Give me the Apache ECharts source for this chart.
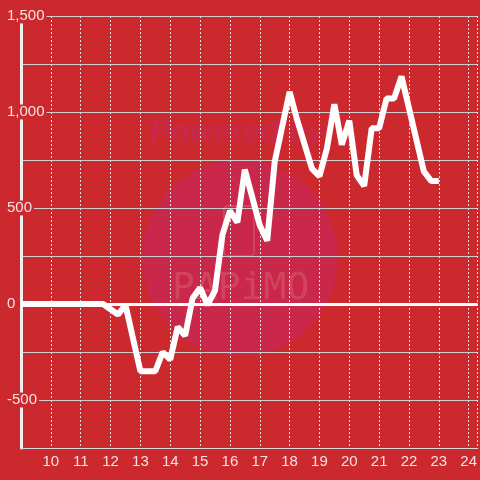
<!DOCTYPE html>
<html>
<head>
<meta charset="utf-8">
<script src="https://cdn.jsdelivr.net/npm/echarts@6/dist/echarts.min.js"></script>
<style>
  html, body { margin: 0; padding: 0; background: #cc292e; }
  #chart { width: 480px; height: 480px; }
</style>
</head>
<body>
<div id="chart"></div>
<script>
// hour of day (15 min steps, only the corners of the line)
const hours = [9, 11.75, 12.25, 12.5, 13, 13.5, 13.75, 14, 14.25, 14.5, 14.75, 15, 15.25, 15.5, 15.75,
    16, 16.25, 16.5, 17, 17.25, 17.5, 18, 18.25, 18.75, 19, 19.25, 19.5, 19.75, 20, 20.25, 20.5,
    20.75, 21, 21.25, 21.5, 21.75, 22.5, 22.75, 23]
const values = [0, 0, -55, -5, -350, -350, -250, -290, -120, -165, 30, 85, -5, 70, 360,
    485, 425, 700, 410, 330, 740, 1105, 960, 705, 665, 810, 1040, 830, 955, 670, 615,
    915, 915, 1070, 1070, 1185, 690, 640, 640]

const BG = '#cc292e'
const LABEL = '#f3e2e2'

const chart = echarts.init(document.getElementById('chart'))

chart.setOption({
    backgroundColor: BG,
    animation: false,
    grid: { left: 21, right: 0, top: 16, bottom: 32 },
    graphic: [
        // faint watermark behind the plot
        { type: 'circle', z: -10, shape: { cx: 240, cy: 258, r: 98 }, style: { fill: '#c9284a' } },
        {
            type: 'text', z: -10, left: 150, top: 118,
            style: { text: 'Powered by', fill: '#c8284a', font: 'italic bold 31px "Liberation Sans"' }
        },
        {
            type: 'rect', z: -10, shape: { x: 224, y: 206, width: 30, height: 50, r: 4 },
            style: { fill: 'none', stroke: 'rgba(225,110,125,0.4)', lineWidth: 2 }
        },
        {
            type: 'text', z: -10, left: 172, top: 270,
            style: { text: 'PAPiMO', fill: 'rgba(225,110,125,0.4)', font: '38px "DejaVu Sans Mono"' }
        }
    ],
    xAxis: {
        type: 'value',
        min: 9,
        max: 24.3,
        interval: 1,
        axisLine: { show: true, onZero: false, lineStyle: { color: '#d8d8d8', width: 1 } },
        axisTick: { show: false },
        axisLabel: {
            color: LABEL, fontSize: 15, fontFamily: 'Liberation Sans', margin: 6,
            showMinLabel: false, showMaxLabel: false
        },
        splitLine: { show: true, lineStyle: { color: '#e2e2e2', type: [2, 2], width: 1 } }
    },
    yAxis: {
        type: 'value',
        min: -750,
        max: 1500,
        interval: 250,
        axisLine: { show: true, lineStyle: { color: '#f0f0f0', width: 3 } },
        axisTick: { show: false },
        axisLabel: {
            color: LABEL, fontSize: 15, fontFamily: 'Liberation Sans',
            align: 'left', margin: 16,
            backgroundColor: BG, padding: [0, 2],
            formatter: v => (v % 500 === 0 ? v.toLocaleString('en-US') : '')
        },
        splitLine: { show: true, lineStyle: { color: '#cfcfcf', width: 1 } }
    },
    series: [
        {
            type: 'line',
            data: hours.map((h, i) => [h, values[i]]),
            symbol: 'none',
            lineStyle: { color: '#ffffff', width: 6 },
            markLine: {
                silent: true,
                symbol: 'none',
                label: { show: false },
                lineStyle: { color: '#ffffff', width: 3, type: 'solid' },
                data: [{ yAxis: 0 }],
                z: 1
            },
            z: 3
        }
    ]
})
</script>
</body>
</html>
